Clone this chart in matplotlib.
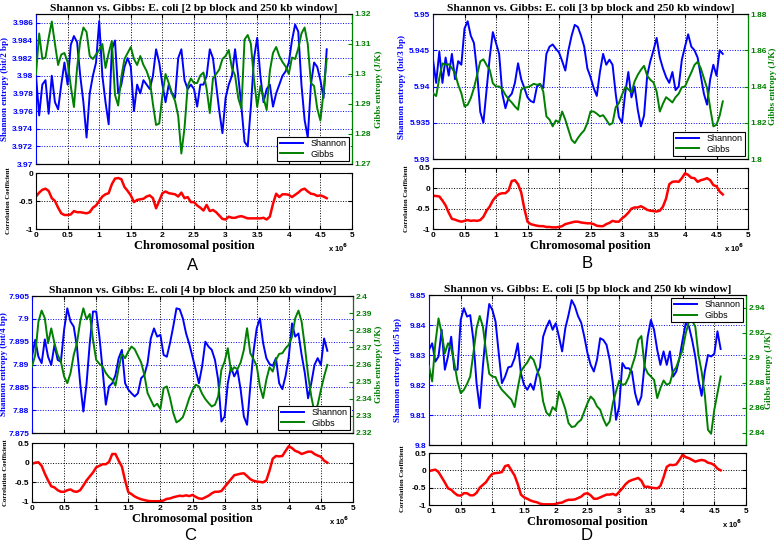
"""Shannon vs. Gibbs entropy along the E. coli chromosome, 2-5 bp blocks, 250 kb window."""

import matplotlib

matplotlib.use("Agg")
import matplotlib.pyplot as plt
import numpy as np
from matplotlib.ticker import FormatStrFormatter, FuncFormatter

# window centres every 50 kb, 0 .. 4.6 Mb
POSITIONS = np.arange(93) * 50_000
X_TICKS = np.arange(0, 5.01e6, 0.5e6)
LEGEND_LABELS = ["Shannon", "Gibbs"]

SHANNON_A = [3.9800, 3.9755, 3.9790, 3.9795, 3.9757, 3.9800, 3.9770, 3.9762, 3.9790, 3.9815,
             3.9790, 3.9835, 3.9845, 3.9838, 3.9800, 3.9770, 3.9730, 3.9780, 3.9800, 3.9815,
             3.9862, 3.9800, 3.9770, 3.9745, 3.9830, 3.9840, 3.9780, 3.9790, 3.9810, 3.9820,
             3.9810, 3.9760, 3.9790, 3.9780, 3.9795, 3.9790, 3.9785, 3.9800, 3.9830, 3.9815,
             3.9790, 3.9770, 3.9790, 3.9780, 3.9775, 3.9820, 3.9830, 3.9795, 3.9785, 3.9790,
             3.9785, 3.9765, 3.9790, 3.9790, 3.9800, 3.9830, 3.9820, 3.9790, 3.9760, 3.9735,
             3.9775, 3.9790, 3.9800, 3.9830, 3.9800, 3.9765, 3.9725, 3.9720, 3.9765, 3.9820,
             3.9843, 3.9800, 3.9770, 3.9785, 3.9790, 3.9765, 3.9780, 3.9790, 3.9800, 3.9805,
             3.9815, 3.9840, 3.9858, 3.9850, 3.9790, 3.9750, 3.9730, 3.9790, 3.9815, 3.9810,
             3.9795, 3.9775, 3.9830]
GIBBS_A = [1.3000, 1.3135, 1.3050, 1.3055, 1.3120, 1.3175, 1.3100, 1.3030, 1.3065, 1.3070,
           1.3040, 1.2960, 1.2890, 1.3020, 1.3110, 1.3155, 1.3140, 1.3060, 1.3050, 1.3065,
           1.3080, 1.3100, 1.3020, 1.3070, 1.3110, 1.2930, 1.2895, 1.2990, 1.3050, 1.3070,
           1.3090, 1.3050, 1.3030, 1.3060, 1.3030, 1.3010, 1.2980, 1.2900, 1.2830, 1.2835,
           1.2930, 1.3000, 1.2970, 1.2935, 1.2910, 1.2860, 1.2735, 1.2820, 1.2960, 1.2985,
           1.2970, 1.2970, 1.2995, 1.3005, 1.2950, 1.2870, 1.2985, 1.3000, 1.3015, 1.3050,
           1.3060, 1.3080, 1.3020, 1.2995, 1.2920, 1.2885, 1.3115, 1.3130, 1.3100, 1.2980,
           1.2890, 1.2960, 1.2920, 1.2880, 1.3010, 1.3070, 1.3090, 1.3060, 1.3040, 1.3025,
           1.3000, 1.3055, 1.3050, 1.3085, 1.3135, 1.3155, 1.3100, 1.2970, 1.2960, 1.2885,
           1.2845, 1.2940, 1.3050]
CORR_A = [-0.42, -0.35, -0.30, -0.28, -0.32, -0.45, -0.50, -0.62, -0.72, -0.75,
          -0.75, -0.74, -0.68, -0.70, -0.70, -0.71, -0.72, -0.70, -0.62, -0.58,
          -0.50, -0.42, -0.38, -0.36, -0.20, -0.10, -0.09, -0.11, -0.25, -0.32,
          -0.40, -0.52, -0.48, -0.47, -0.46, -0.42, -0.40, -0.45, -0.63, -0.50,
          -0.36, -0.33, -0.36, -0.37, -0.38, -0.42, -0.35, -0.45, -0.43, -0.52,
          -0.52, -0.58, -0.62, -0.67, -0.57, -0.68, -0.66, -0.70, -0.76, -0.82,
          -0.83, -0.78, -0.80, -0.80, -0.78, -0.77, -0.79, -0.81, -0.81, -0.81,
          -0.81, -0.81, -0.80, -0.83, -0.78, -0.55, -0.37, -0.43, -0.38, -0.38,
          -0.39, -0.43, -0.39, -0.35, -0.30, -0.28, -0.33, -0.37, -0.38, -0.41,
          -0.40, -0.42, -0.45]

SHANNON_B = [5.9437, 5.9405, 5.9448, 5.9405, 5.9440, 5.9415, 5.9445, 5.9410, 5.9435, 5.9430,
             5.9480, 5.9490, 5.9470, 5.9460, 5.9420, 5.9365, 5.9350, 5.9395, 5.9440, 5.9475,
             5.9460, 5.9445, 5.9390, 5.9370, 5.9385, 5.9390, 5.9405, 5.9432, 5.9410, 5.9398,
             5.9385, 5.9380, 5.9378, 5.9400, 5.9403, 5.9398, 5.9445, 5.9455, 5.9458, 5.9452,
             5.9447, 5.9435, 5.9422, 5.9450, 5.9470, 5.9485, 5.9482, 5.9470, 5.9455, 5.9425,
             5.9413, 5.9398, 5.9387, 5.9420, 5.9445, 5.9430, 5.9437, 5.9430, 5.9390, 5.9358,
             5.9350, 5.9390, 5.9420, 5.9385, 5.9400, 5.9368, 5.9345, 5.9360, 5.9415, 5.9435,
             5.9450, 5.9467, 5.9440, 5.9425, 5.9413, 5.9405, 5.9420, 5.9395, 5.9400, 5.9437,
             5.9455, 5.9472, 5.9455, 5.9450, 5.9440, 5.9415, 5.9390, 5.9375, 5.9410, 5.9430,
             5.9415, 5.9450, 5.9445]
GIBBS_B = [1.8363, 1.8347, 1.8446, 1.8528, 1.8519, 1.8523, 1.8501, 1.8473, 1.8409, 1.8363,
           1.8290, 1.8299, 1.8336, 1.8391, 1.8464, 1.8538, 1.8550, 1.8519, 1.8492, 1.8418,
           1.8400, 1.8400, 1.8385, 1.8354, 1.8330, 1.8312, 1.8290, 1.8272, 1.8382, 1.8394,
           1.8396, 1.8404, 1.8415, 1.8409, 1.8415, 1.8372, 1.8235, 1.8217, 1.8180, 1.8213,
           1.8202, 1.8262, 1.8217, 1.8161, 1.8106, 1.8088, 1.8116, 1.8139, 1.8158, 1.8198,
           1.8262, 1.8262, 1.8250, 1.8235, 1.8242, 1.8217, 1.8189, 1.8198, 1.8286, 1.8308,
           1.8354, 1.8396, 1.8385, 1.8367, 1.8428, 1.8464, 1.8492, 1.8514, 1.8459, 1.8437,
           1.8422, 1.8372, 1.8262, 1.8305, 1.8341, 1.8327, 1.8312, 1.8341, 1.8360, 1.8396,
           1.8400, 1.8440, 1.8477, 1.8519, 1.8536, 1.8501, 1.8446, 1.8391, 1.8281, 1.8180,
           1.8189, 1.8239, 1.8318]
CORR_B = [-0.18, -0.19, -0.20, -0.30, -0.42, -0.60, -0.75, -0.77, -0.80, -0.82,
          -0.80, -0.78, -0.80, -0.79, -0.80, -0.78, -0.70, -0.55, -0.45, -0.30,
          -0.20, -0.14, -0.12, -0.12, -0.05, 0.18, 0.20, 0.10, -0.10, -0.50,
          -0.82, -0.88, -0.90, -0.92, -0.93, -0.93, -0.95, -0.95, -0.96, -0.96,
          -0.95, -0.93, -0.88, -0.86, -0.84, -0.82, -0.82, -0.84, -0.85, -0.86,
          -0.86, -0.88, -0.92, -0.93, -0.93, -0.88, -0.85, -0.80, -0.82, -0.82,
          -0.74, -0.68, -0.60, -0.50, -0.47, -0.47, -0.44, -0.48, -0.53, -0.55,
          -0.56, -0.57, -0.55, -0.45, -0.25, 0.10, 0.16, 0.17, 0.16, 0.25,
          0.37, 0.33, 0.26, 0.25, 0.16, 0.20, 0.22, 0.25, 0.20, 0.08,
          0.05, -0.08, -0.15]

SHANNON_C = [7.8917, 7.8954, 7.8917, 7.8903, 7.8955, 7.8917, 7.8899, 7.8943, 7.8910, 7.8906,
             7.8976, 7.9023, 7.8994, 7.8983, 7.8939, 7.8859, 7.8797, 7.8859, 7.8947, 7.9016,
             7.9016, 7.8961, 7.8888, 7.8812, 7.8852, 7.8859, 7.8877, 7.8914, 7.8932, 7.8859,
             7.8845, 7.8837, 7.8830, 7.8837, 7.8870, 7.8877, 7.8903, 7.8957, 7.8979, 7.8961,
             7.8965, 7.8921, 7.8917, 7.8947, 7.8983, 7.9023, 7.9021, 7.9001, 7.8968, 7.8945,
             7.8917, 7.8888, 7.8859, 7.8896, 7.8950, 7.8939, 7.8932, 7.8910, 7.8866, 7.8775,
             7.8786, 7.8859, 7.8894, 7.8874, 7.8888, 7.8845, 7.8786, 7.8768, 7.8852, 7.8928,
             7.8979, 7.9001, 7.8947, 7.8914, 7.8901, 7.8897, 7.8914, 7.8859, 7.8846, 7.8875,
             7.8917, 7.8990, 7.8961, 7.8968, 7.8921, 7.8881, 7.8826, 7.8859, 7.8899, 7.8914,
             7.8899, 7.8957, 7.8930]
GIBBS_C = [2.3588, 2.3656, 2.3850, 2.3915, 2.3870, 2.3724, 2.3811, 2.3724, 2.3656, 2.3617,
           2.3530, 2.3491, 2.3550, 2.3656, 2.3724, 2.3850, 2.3928, 2.3864, 2.3895, 2.3744,
           2.3627, 2.3604, 2.3588, 2.3550, 2.3526, 2.3511, 2.3476, 2.3579, 2.3662, 2.3637,
           2.3676, 2.3705, 2.3689, 2.3650, 2.3612, 2.3540, 2.3433, 2.3394, 2.3355, 2.3371,
           2.3340, 2.3462, 2.3472, 2.3404, 2.3317, 2.3262, 2.3274, 2.3293, 2.3346, 2.3404,
           2.3449, 2.3482, 2.3472, 2.3429, 2.3398, 2.3375, 2.3355, 2.3365, 2.3414, 2.3569,
           2.3617, 2.3695, 2.3559, 2.3584, 2.3573, 2.3612, 2.3685, 2.3812, 2.3666, 2.3631,
           2.3592, 2.3472, 2.3404, 2.3511, 2.3584, 2.3559, 2.3627, 2.3662, 2.3666, 2.3695,
           2.3715, 2.3763, 2.3870, 2.3915, 2.3850, 2.3705, 2.3540, 2.3414, 2.3320, 2.3365,
           2.3452, 2.3530, 2.3598]
CORR_C = [-0.03, 0.00, 0.01, -0.08, -0.28, -0.45, -0.60, -0.63, -0.70, -0.74,
          -0.74, -0.70, -0.68, -0.73, -0.74, -0.70, -0.58, -0.45, -0.35, -0.25,
          -0.12, -0.08, -0.04, -0.04, 0.02, 0.22, 0.22, 0.05, -0.10, -0.45,
          -0.75, -0.80, -0.86, -0.90, -0.93, -0.95, -0.97, -0.98, -0.98, -0.98,
          -0.98, -0.96, -0.92, -0.91, -0.88, -0.86, -0.84, -0.85, -0.83, -0.85,
          -0.82, -0.87, -0.91, -0.92, -0.88, -0.84, -0.78, -0.74, -0.74, -0.72,
          -0.62, -0.52, -0.42, -0.32, -0.30, -0.28, -0.27, -0.34, -0.42, -0.46,
          -0.48, -0.49, -0.50, -0.45, -0.20, 0.10, 0.17, 0.16, 0.17, 0.30,
          0.42, 0.37, 0.30, 0.27, 0.22, 0.25, 0.28, 0.28, 0.22, 0.18,
          0.15, 0.05, 0.00]

SHANNON_D = [9.8317, 9.8339, 9.8278, 9.8295, 9.8384, 9.8251, 9.8295, 9.8361, 9.8251, 9.8251,
             9.8417, 9.8456, 9.8428, 9.8433, 9.8350, 9.8206, 9.8123, 9.8262, 9.8384, 9.8470,
             9.8450, 9.8411, 9.8306, 9.8206, 9.8228, 9.8259, 9.8262, 9.8289, 9.8339, 9.8239,
             9.8200, 9.8184, 9.8204, 9.8184, 9.8234, 9.8259, 9.8361, 9.8392, 9.8415, 9.8384,
             9.8406, 9.8361, 9.8312, 9.8389, 9.8433, 9.8483, 9.8463, 9.8430, 9.8408, 9.8361,
             9.8306, 9.8267, 9.8245, 9.8284, 9.8356, 9.8350, 9.8334, 9.8284, 9.8206, 9.8084,
             9.8129, 9.8273, 9.8256, 9.8256, 9.8245, 9.8173, 9.8134, 9.8162, 9.8267, 9.8361,
             9.8417, 9.8384, 9.8317, 9.8267, 9.8312, 9.8267, 9.8312, 9.8228, 9.8245, 9.8289,
             9.8350, 9.8406, 9.8395, 9.8350, 9.8295, 9.8217, 9.8164, 9.8245, 9.8300, 9.8295,
             9.8304, 9.8379, 9.8320]
GIBBS_D = [2.8928, 2.8808, 2.9114, 2.9313, 2.9194, 2.9034, 2.9114, 2.9074, 2.8954, 2.8808,
           2.8715, 2.8741, 2.8789, 2.8848, 2.9034, 2.9234, 2.9332, 2.9247, 2.9047, 2.8869,
           2.8848, 2.8843, 2.8781, 2.8741, 2.8715, 2.8688, 2.8662, 2.8603, 2.8755, 2.8888,
           2.8928, 2.8960, 2.9007, 2.8981, 2.8906, 2.8835, 2.8648, 2.8561, 2.8534, 2.8603,
           2.8577, 2.8728, 2.8662, 2.8587, 2.8476, 2.8444, 2.8449, 2.8481, 2.8502, 2.8569,
           2.8635, 2.8688, 2.8662, 2.8609, 2.8582, 2.8508, 2.8454, 2.8489, 2.8635, 2.8728,
           2.8816, 2.8781, 2.8789, 2.8843, 2.8928, 2.9007, 2.9140, 2.9172, 2.8928, 2.8874,
           2.8848, 2.8821, 2.8675, 2.8755, 2.8816, 2.8781, 2.8795, 2.8888, 2.8922, 2.8994,
           2.9061, 2.9194, 2.9287, 2.9295, 2.9247, 2.9021, 2.8888, 2.8702, 2.8422, 2.8390,
           2.8582, 2.8715, 2.8848]
CORR_D = [-0.02, 0.00, 0.02, -0.05, -0.20, -0.35, -0.52, -0.56, -0.65, -0.72,
          -0.73, -0.66, -0.66, -0.72, -0.72, -0.65, -0.50, -0.42, -0.34, -0.20,
          -0.10, -0.08, -0.07, -0.05, 0.12, 0.15, 0.00, -0.15, -0.40, -0.70,
          -0.78, -0.82, -0.87, -0.90, -0.92, -0.96, -0.98, -0.98, -0.98, -0.98,
          -0.97, -0.94, -0.93, -0.88, -0.85, -0.85, -0.84, -0.80, -0.76, -0.68,
          -0.66, -0.72, -0.82, -0.82, -0.78, -0.74, -0.70, -0.70, -0.68, -0.72,
          -0.62, -0.52, -0.40, -0.32, -0.28, -0.25, -0.22, -0.30, -0.48, -0.47,
          -0.50, -0.51, -0.52, -0.45, -0.20, 0.10, 0.16, 0.15, 0.17, 0.30,
          0.45, 0.38, 0.35, 0.30, 0.25, 0.28, 0.30, 0.28, 0.22, 0.20,
          0.15, 0.05, 0.00]

# axis ranges and ticks per panel (block size in bp)
BLOCKS = {"A": 2, "B": 3, "C": 4, "D": 5}
SHANNON_TICKS = {
    "A": np.arange(3.970, 3.9865, 0.002),
    "B": np.arange(5.930, 5.9505, 0.005),
    "C": np.arange(7.875, 7.9055, 0.005),
    "D": np.arange(9.80, 9.855, 0.01),
}
SHANNON_LIM = {"A": (3.970, 3.987), "B": (5.930, 5.950), "C": (7.875, 7.905), "D": (9.80, 9.85)}
GIBBS_TICKS = {
    "A": np.arange(1.27, 1.325, 0.01),
    "B": np.arange(1.80, 1.885, 0.02),
    "C": np.arange(2.32, 2.405, 0.01),
    "D": np.arange(2.84, 2.945, 0.02),
}
GIBBS_LIM = {"A": (1.27, 1.32), "B": (1.80, 1.88), "C": (2.32, 2.40), "D": (2.83, 2.95)}
CORR_TICKS = {"A": [-1, -0.5, 0], "B": [-1, -0.5, 0, 0.5], "C": [-1, -0.5, 0, 0.5], "D": [-1, -0.5, 0, 0.5]}
CORR_LIM = {"A": (-1, 0), "B": (-1, 0.5), "C": (-1, 0.5), "D": (-1, 0.5)}
SERIES = {
    "A": (SHANNON_A, GIBBS_A, CORR_A),
    "B": (SHANNON_B, GIBBS_B, CORR_B),
    "C": (SHANNON_C, GIBBS_C, CORR_C),
    "D": (SHANNON_D, GIBBS_D, CORR_D),
}

# pixel layout: (left, top, right, bottom) boxes, label x positions, letter centre
LAYOUT = {
    "A": dict(top=(36, 14, 352, 164), bot=(36, 173, 352, 229), lab=(5, 379, 9), letter=(193, 265), loc="lower right"),
    "B": dict(top=(433, 14, 748, 159), bot=(433, 168, 748, 229), lab=(402, 773, 406), letter=(587, 263), loc="lower right"),
    "C": dict(top=(32, 296, 353, 433), bot=(32, 443, 353, 502), lab=(4, 379, 6), letter=(190, 536), loc="lower right"),
    "D": dict(top=(429, 295, 746, 445), bot=(429, 453, 746, 505), lab=(398, 769, 403), letter=(587, 536), loc="upper right"),
}

W, H = 778, 546
BLUE = "#0000ff"
GREEN = "#008000"
RED = "#ff0000"
SANS = "Liberation Sans"
SERIF = "Liberation Serif"


def px_rect(box):
    left, top, right, bottom = box
    return [left / W, 1 - bottom / H, (right - left) / W, (bottom - top) / H]


def frac(x, box):
    return (x - box[0]) / (box[2] - box[0])


def draw_panel(fig, key):
    shannon, gibbs, corr = SERIES[key]
    lay = LAYOUT[key]

    # --- upper plot: Shannon (left) and Gibbs (right) ---
    ax = fig.add_axes(px_rect(lay["top"]))
    ax2 = ax.twinx()
    l1, = ax.plot(POSITIONS, shannon, color=BLUE, lw=1.4)
    l2, = ax2.plot(POSITIONS, gibbs, color=GREEN, lw=1.4)

    ax.set_xlim(0, 5e6)
    ax.set_xticks(X_TICKS)
    ax.tick_params(axis="x", direction="in", length=3, labelbottom=False, top=True)
    ax.set_ylim(*SHANNON_LIM[key])
    ax.set_yticks(SHANNON_TICKS[key])
    ax.yaxis.set_major_formatter(FormatStrFormatter("%g"))
    ax.tick_params(axis="y", direction="in", length=3, colors=BLUE, labelsize=6, pad=2)
    ax2.set_ylim(*GIBBS_LIM[key])
    ax2.set_yticks(GIBBS_TICKS[key])
    ax2.yaxis.set_major_formatter(FormatStrFormatter("%g"))
    ax2.tick_params(axis="y", direction="in", length=3, colors=GREEN, labelsize=6, pad=2)

    ax.grid(axis="x", color="black", ls=":", lw=0.7)
    ax.grid(axis="y", color=BLUE, ls=":", lw=0.7)
    ax.spines["left"].set_color(BLUE)
    ax2.spines["left"].set_visible(False)
    ax2.spines["right"].set_color(GREEN)

    ax.set_title(f"Shannon vs. Gibbs: E. coli [{BLOCKS[key]} bp block and 250 kb window]",
                 family=SERIF, fontsize=8.2, fontweight="bold", pad=2.5)
    ax.set_ylabel(f"Shannon entropy (bit/{BLOCKS[key]} bp)", family=SERIF, fontsize=6.5,
                  fontweight="bold", color=BLUE)
    ax.yaxis.label.set_va("center")
    ax.yaxis.set_label_coords(frac(lay["lab"][0], lay["top"]), 0.5)
    ax2.set_ylabel("Gibbs entropy (J/K)", family=SERIF, fontsize=6.5, fontweight="bold", color=GREEN)
    ax2.yaxis.label.set_va("center")
    ax2.yaxis.set_label_coords(frac(lay["lab"][1], lay["top"]), 0.5)

    leg = ax2.legend([l1, l2], LEGEND_LABELS, loc=lay["loc"], fancybox=False, framealpha=1,
                     edgecolor="black", handlelength=2.6, borderpad=0.3, labelspacing=0.15,
                     borderaxespad=0.3, prop=dict(family=SANS, size=6.5, weight="normal"))
    leg.get_frame().set_linewidth(0.8)

    # --- lower plot: correlation coefficient ---
    bx = fig.add_axes(px_rect(lay["bot"]))
    bx.plot(POSITIONS, corr, color=RED, lw=1.8)
    bx.set_xlim(0, 5e6)
    bx.set_xticks(X_TICKS)
    bx.xaxis.set_major_formatter(FuncFormatter(lambda v, _: f"{v / 1e6:g}"))
    bx.set_ylim(*CORR_LIM[key])
    bx.set_yticks(CORR_TICKS[key])
    bx.yaxis.set_major_formatter(FormatStrFormatter("%g"))
    bx.tick_params(direction="in", length=3, labelsize=6, pad=2, top=True, right=True)
    bx.grid(color="black", ls=":", lw=0.7)
    bx.set_ylabel("Correlation Coefficient", family=SERIF, fontsize=4.8, fontweight="bold")
    bx.yaxis.label.set_va("center")
    bx.yaxis.set_label_coords(frac(lay["lab"][2], lay["bot"]), 0.5)
    bx.set_xlabel("Chromosomal position", family=SERIF, fontsize=9, fontweight="bold", labelpad=1)
    bx.annotate(r"x 10$^6$", xy=(1, 0), xycoords="axes fraction", xytext=(-4, -19),
                textcoords="offset pixels", ha="right", va="center", fontsize=5.5)

    fig.text(lay["letter"][0] / W, 1 - lay["letter"][1] / H, key, family=SANS,
             fontsize=12, fontweight="normal", ha="center", va="center")


def main() -> None:
    plt.rcParams["font.family"] = SANS
    plt.rcParams["font.weight"] = "bold"
    fig = plt.figure(figsize=(W / 100, H / 100), dpi=100)
    for key in ["A", "B", "C", "D"]:
        draw_panel(fig, key)
    fig.savefig("out.png", dpi=100)


if __name__ == "__main__":
    main()
